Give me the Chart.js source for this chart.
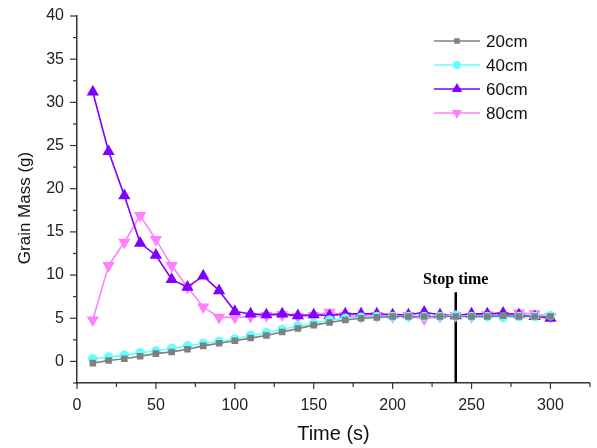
<!DOCTYPE html>
<html>
<head>
<meta charset="utf-8">
<script src="https://cdn.jsdelivr.net/npm/chart.js@4.4.1/dist/chart.umd.min.js"></script>
<style>
  html, body { margin: 0; padding: 0; background: #fff; }
  #wrap { width: 597px; height: 448px; }
</style>
</head>
<body>
<div id="wrap"><canvas id="c"></canvas></div>
<script>
// data
const times = [10,20,30,40,50,60,70,80,90,100,110,120,130,140,150,160,170,180,190,200,210,220,230,240,250,260,270,280,290,300];
const mass20 = [-0.2,0.1,0.3,0.6,0.9,1.1,1.4,1.8,2.1,2.4,2.7,3.0,3.4,3.8,4.2,4.5,4.8,5.0,5.1,5.2,5.2,5.2,5.2,5.2,5.2,5.2,5.3,5.2,5.2,5.2];
const mass40 = [0.3,0.5,0.7,1.0,1.2,1.5,1.8,2.1,2.3,2.6,3.0,3.3,3.7,4.1,4.4,4.8,5.0,5.1,5.2,5.2,5.2,5.2,5.2,5.3,5.2,5.2,5.1,5.2,5.2,5.3];
const mass60 = [31.2,24.3,19.2,13.7,12.3,9.5,8.6,9.9,8.2,5.8,5.5,5.4,5.5,5.3,5.4,5.3,5.5,5.5,5.5,5.4,5.4,5.7,5.4,5.3,5.5,5.5,5.6,5.4,5.2,5.0];
const mass80 = [4.8,11.1,13.8,16.9,14.1,11.1,8.6,6.3,5.1,5.1,5.2,5.3,5.4,5.2,5.3,5.7,5.3,5.2,5.3,5.2,5.3,4.9,5.2,5.3,5.2,5.4,5.3,5.6,5.5,5.2];
const seriesNames = ["20cm", "40cm", "60cm", "80cm"];
const stopTime = 240;
const stopTop = 8;
const stopLabel = "Stop time";
const yTitle = "Grain Mass (g)";

const pts = arr => arr.map((v, i) => ({ x: times[i], y: v }));

function series(label, data, color, style, r) {
    return {
        label: label,
        data: pts(data),
        borderColor: color,
        backgroundColor: color,
        borderWidth: 1.6,
        pointStyle: style,
        pointRadius: r,
        pointHoverRadius: r,
        pointRotation: 0,
        tension: 0
    };
}

const ds = [
    series(seriesNames[0], mass20, "#808080", "rect", 3.5),
    series(seriesNames[1], mass40, "#66ffff", "circle", 4),
    series(seriesNames[2], mass60, "#7f00ff", "triangle", 5.5),
    series(seriesNames[3], mass80, "#ff80ff", "triangle", 5.5)
];
ds[3].pointRotation = 180;
ds.push({
    label: "stop",
    data: [{ x: stopTime, y: stopTop }, { x: stopTime, y: -2.5 }],
    borderColor: "#000",
    borderWidth: 2.5,
    pointRadius: 0,
    isStop: true
});

// ticks, y title, stop label and legend drawn by hand
const extras = {
    id: "extras",
    afterDraw(chart) {
        const ctx = chart.ctx;
        const xs = chart.scales.x, ys = chart.scales.y;
        const area = chart.chartArea;
        ctx.save();
        ctx.strokeStyle = "#333";
        ctx.lineWidth = 1.2;
        for (let v = 0; v <= 325; v += 25) {
            const px = xs.getPixelForValue(v);
            const len = v % 50 === 0 ? 6 : 4;
            ctx.beginPath();
            ctx.moveTo(px, area.bottom);
            ctx.lineTo(px, area.bottom + len);
            ctx.stroke();
        }
        for (let v = -2.5; v <= 40; v += 2.5) {
            const py = ys.getPixelForValue(v);
            const len = v % 5 === 0 ? 7 : 4;
            ctx.beginPath();
            ctx.moveTo(area.left, py);
            ctx.lineTo(area.left - len, py);
            ctx.stroke();
        }

        // y title
        ctx.save();
        ctx.translate(25, 208);
        ctx.rotate(-Math.PI / 2);
        ctx.fillStyle = "#111";
        ctx.font = "17px 'Liberation Sans', Arial, sans-serif";
        ctx.textAlign = "center";
        ctx.textBaseline = "middle";
        ctx.fillText(yTitle, 0, 0);
        ctx.restore();

        // stop label
        ctx.fillStyle = "#000";
        ctx.font = "bold 16px 'Liberation Serif', 'DejaVu Serif', serif";
        ctx.textAlign = "center";
        ctx.textBaseline = "alphabetic";
        ctx.fillText(stopLabel, xs.getPixelForValue(stopTime), ys.getPixelForValue(stopTop) - 8);

        // legend
        ctx.font = "17px 'Liberation Sans', Arial, sans-serif";
        ctx.textAlign = "left";
        ctx.textBaseline = "middle";
        chart.data.datasets.forEach((d, i) => {
            if (d.isStop) return;
            const y = 41 + i * 24;
            const x0 = 434, x1 = 480;
            ctx.strokeStyle = d.borderColor;
            ctx.lineWidth = 1.6;
            ctx.beginPath();
            ctx.moveTo(x0, y);
            ctx.lineTo(x1, y);
            ctx.stroke();
            Chart.helpers.drawPoint(ctx, {
                pointStyle: d.pointStyle,
                radius: d.pointRadius * 0.8,
                rotation: d.pointRotation || 0,
                borderWidth: 1
            }, (x0 + x1) / 2, y);
            ctx.fillStyle = d.borderColor;
            ctx.fill();
            ctx.fillStyle = "#111";
            ctx.fillText(d.label, 486, y + 1);
        });
        ctx.restore();
    }
};

new Chart(document.getElementById("c"), {
    type: "line",
    data: { datasets: ds },
    options: {
        responsive: true,
        maintainAspectRatio: false,
        animation: false,
        layout: { padding: { top: 16, right: 7, left: 0, bottom: 0 } },
        plugins: {
            legend: { display: false },
            tooltip: { enabled: false }
        },
        scales: {
            x: {
                type: "linear",
                min: 0,
                max: 325,
                afterBuildTicks(scale) {
                    scale.ticks = [0, 50, 100, 150, 200, 250, 300].map(v => ({ value: v }));
                },
                ticks: {
                    padding: 5,
                    color: "#222",
                    font: { family: "'Liberation Sans', Arial, sans-serif", size: 16 },
                    maxRotation: 0
                },
                grid: { display: false },
                border: { display: true, color: "#333", width: 1.5 },
                title: {
                    display: true,
                    text: "Time (s)",
                    color: "#111",
                    font: { family: "'Liberation Sans', Arial, sans-serif", size: 20 },
                    padding: { top: 4, bottom: 2 }
                },
                afterFit(scale) { scale.height = 65; }
            },
            y: {
                type: "linear",
                min: -2.5,
                max: 40,
                afterBuildTicks(scale) {
                    scale.ticks = [0, 5, 10, 15, 20, 25, 30, 35, 40].map(v => ({ value: v }));
                },
                ticks: {
                    padding: 5,
                    color: "#222",
                    font: { family: "'Liberation Sans', Arial, sans-serif", size: 16 }
                },
                grid: { display: false },
                border: { display: true, color: "#333", width: 1.5 },
                afterFit(scale) { scale.width = 77; }
            }
        }
    },
    plugins: [extras]
});
</script>
</body>
</html>
